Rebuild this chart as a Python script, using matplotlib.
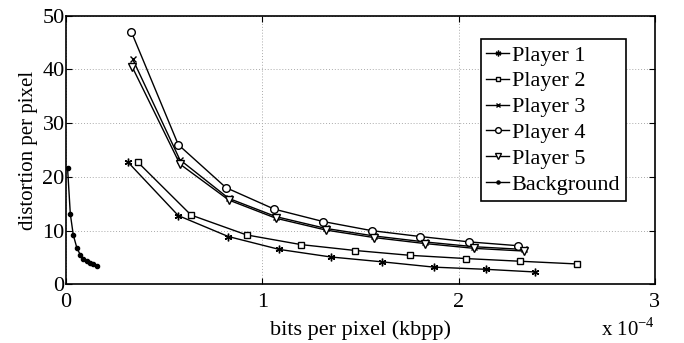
import matplotlib
matplotlib.use('Agg')
import matplotlib.pyplot as plt
import numpy as np

plt.rcParams['font.family'] = ['Liberation Serif', 'DejaVu Serif']
plt.rcParams['mathtext.fontset'] = 'custom'
plt.rcParams['mathtext.rm'] = 'Liberation Serif'

# bits per pixel in units of 1e-4, distortion per pixel
p1_x = [0.317, 0.572, 0.827, 1.087, 1.348, 1.608, 1.876, 2.138, 2.391]
p1_y = [22.7, 12.8, 8.9, 6.5, 5.1, 4.2, 3.2, 2.8, 2.3]

p2_x = [0.367, 0.637, 0.920, 1.197, 1.474, 1.754, 2.038, 2.314, 2.601]
p2_y = [22.7, 12.9, 9.2, 7.4, 6.3, 5.4, 4.8, 4.3, 3.8]

p3_x = [0.340, 0.580, 0.829, 1.070, 1.325, 1.571, 1.827, 2.080, 2.332]
p3_y = [41.9, 23.2, 16.0, 12.6, 10.4, 9.0, 7.9, 7.0, 6.5]

p4_x = [0.333, 0.572, 0.815, 1.061, 1.309, 1.557, 1.805, 2.055, 2.300]
p4_y = [47.0, 26.0, 18.0, 14.0, 11.7, 10.0, 8.9, 7.9, 7.2]

p5_x = [0.337, 0.580, 0.829, 1.070, 1.325, 1.571, 1.827, 2.080, 2.332]
p5_y = [40.5, 22.4, 15.7, 12.3, 10.1, 8.7, 7.6, 6.7, 6.2]

bg_x = [0.008, 0.022, 0.037, 0.056, 0.073, 0.088, 0.105, 0.122, 0.139, 0.156]
bg_y = [21.6, 13.1, 9.2, 6.7, 5.5, 4.8, 4.3, 4.0, 3.7, 3.4]

series = [
    ('Player 1', p1_x, p1_y, dict(marker=(6, 2, 0), markersize=5.5, mfc='k')),
    ('Player 2', p2_x, p2_y, dict(marker='s', markersize=4.5, mfc='white')),
    ('Player 3', p3_x, p3_y, dict(marker='x', markersize=4.5, mfc='k')),
    ('Player 4', p4_x, p4_y, dict(marker='o', markersize=5.5, mfc='white')),
    ('Player 5', p5_x, p5_y, dict(marker='v', markersize=6, mfc='white')),
    ('Background', bg_x, bg_y, dict(marker='.', markersize=6, mfc='k')),
]

fig = plt.figure(figsize=(6.84, 3.43), dpi=100)
ax = fig.add_axes([0.0965, 0.171, 0.861, 0.783])

for label, x, y, style in series:
    ax.plot(x, y, color='k', lw=1.0, mec='k', mew=1.0, label=label, **style)

ax.set_xlim(0, 3)
ax.set_ylim(0, 50)
ax.set_xticks([0, 1, 2, 3])
ax.set_yticks([0, 10, 20, 30, 40, 50])
ax.grid(True, ls=(0, (1, 2)), color='#aaaaaa', lw=0.7)
ax.tick_params(direction='in', top=True, right=True, labelsize=16, length=4, pad=1)
ax.tick_params(axis='x', pad=6)
for s in ax.spines.values():
    s.set_linewidth(1.2)

ax.set_xlabel('bits per pixel (kbpp)', fontsize=16, labelpad=6)
ax.set_ylabel('distortion per pixel', fontsize=15, labelpad=3)
fig.text(0.957, 0.005, r'x 10$^{-4}$', fontsize=15, ha='right', va='bottom')

leg = ax.legend(loc='upper left', bbox_to_anchor=(0.704, 0.912), borderaxespad=0,
                fontsize=16, handlelength=1.05, handletextpad=0.1, labelspacing=0.24,
                borderpad=0.25, markerscale=0.75, fancybox=False, framealpha=1,
                edgecolor='k')
leg.get_frame().set_linewidth(1.2)

fig.savefig('out.png', dpi=100)
